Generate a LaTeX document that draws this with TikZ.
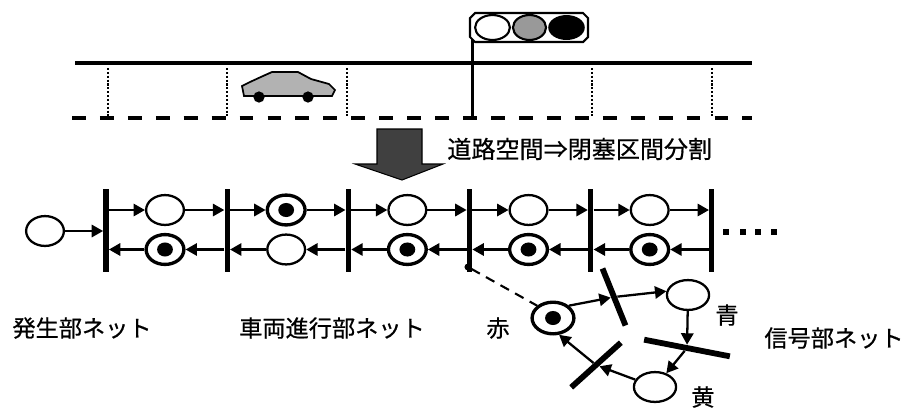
\documentclass[tikz,border=0pt]{standalone}
\usepackage{fontspec}
\setmainfont{Noto Sans CJK JP}[FakeBold=0.6]
\usetikzlibrary{arrows.meta,shapes.geometric,positioning}

\begin{document}
\begin{tikzpicture}[x=0.02cm, y=-0.02cm, node distance=2.424cm,
  place/.style={draw, ellipse, line width=1.3pt, minimum width=21.5pt, minimum height=17pt, inner sep=0},
  marked/.style={place, line width=1.9pt, path picture={\fill (path picture bounding box.center) ellipse [x radius=4.5pt, y radius=4pt];}},
  bar/.style={fill, inner sep=0, minimum width=2.9pt, minimum height=47pt},
  sbar/.style={fill, inner sep=0, minimum height=3.3pt},
  flow/.style={-{Triangle[length=6.5pt, width=7pt]}, line width=1.3pt},
  lbl/.style={font=\fontsize{13.2pt}{16pt}\selectfont, inner sep=0}]

  \useasboundingbox (0,0) rectangle (909,414);

  % Road
  \draw[line width=2.8pt] (75,63) -- (752,63);
  \draw[line width=2.5pt, dash pattern=on 7.9pt off 8pt] (72,118) -- (752,118);
  \draw[line width=1.3pt, dash pattern=on 1.2pt off 1pt] (108,68) -- (108,116);
  \draw[line width=1.3pt, dash pattern=on 1.2pt off 1pt] (227,68) -- (227,116);
  \draw[line width=1.3pt, dash pattern=on 1.2pt off 1pt] (347,68) -- (347,116);
  \draw[line width=1.3pt, dash pattern=on 1.2pt off 1pt] (592,68) -- (592,116);
  \draw[line width=1.3pt, dash pattern=on 1.2pt off 1pt] (712,68) -- (712,116);

  % Signal pole and lights
  \draw[line width=1.7pt] (472,38) -- (472,118);
  \draw[line width=1.2pt, fill=white] (475,13) -- (583,13) -- (588,18) -- (588,37) -- (583,42) -- (475,42) -- (470,37) -- (470,18) -- cycle;
  \draw[line width=1.2pt] (492.5,27.5) ellipse [x radius=9.9pt, y radius=7.1pt];
  \draw[line width=1.2pt, fill=black!40] (529.5,27.5) ellipse [x radius=9.4pt, y radius=7.1pt];
  \fill (566.5,27.5) ellipse [x radius=10.4pt, y radius=7.1pt];

  % Car
  \draw[line width=1pt, fill=black!30] (244,96) -- (242,86) -- (250,82) -- (263,76) -- (272,72) -- (298,72) -- (311,79) -- (329,84) -- (335,90) -- (332,96) -- cycle;
  \fill (259,97) circle [radius=3.2pt];
  \fill (308,97) circle [radius=3.2pt];

  % Block arrow and caption
  \draw[line width=0.6pt, fill=black!75] (377,129) -- (422,129) -- (422,164) -- (443,164) -- (402,180) -- (355,164) -- (377,164) -- cycle;
  \node[lbl, anchor=west, font=\fontsize{13.7pt}{17pt}\selectfont] (split) at (447,149) {道路空間⇒閉塞区間分割};

  % Generation net
  \node[place] (G) at (45,231) {};

  % Transitions
  \node[bar] (T1) at (106,230.5) {};
  \node[bar, right of=T1] (T2) {};
  \node[bar, right of=T2] (T3) {};
  \node[bar, right of=T3] (T4) {};
  \node[bar, right of=T4] (T5) {};
  \node[bar, right of=T5] (T6) {};

  % Forward row
  \node[place] (A1) at (165,210) {};
  \node[marked, right of=A1] (A2) {};
  \node[place, right of=A2] (A3) {};
  \node[place, right of=A3] (A4) {};
  \node[place, right of=A4] (A5) {};

  % Backward row
  \node[marked, below of=A1, node distance=0.79cm] (B1) {};
  \node[place, below of=A2, node distance=0.79cm] (B2) {};
  \node[marked, below of=A3, node distance=0.79cm] (B3) {};
  \node[marked, below of=A4, node distance=0.79cm] (B4) {};
  \node[marked, below of=A5, node distance=0.79cm] (B5) {};

  \draw[flow] (G) -- (T1.west |- G);

  % Forward arcs
  \draw[flow] (T1.east |- A1) -- (A1);
  \draw[flow] (A1) -- (T2.west |- A1);
  \draw[flow] (T2.east |- A2) -- (A2);
  \draw[flow] (A2) -- (T3.west |- A2);
  \draw[flow] (T3.east |- A3) -- (A3);
  \draw[flow] (A3) -- (T4.west |- A3);
  \draw[flow] (T4.east |- A4) -- (A4);
  \draw[flow] (A4) -- (T5.west |- A4);
  \draw[flow] (T5.east |- A5) -- (A5);
  \draw[flow] (A5) -- (T6.west |- A5);

  % Backward arcs
  \draw[flow] (T6.west |- B5) -- (B5);
  \draw[flow] (B5) -- (T5.east |- B5);
  \draw[flow] (T5.west |- B4) -- (B4);
  \draw[flow] (B4) -- (T4.east |- B4);
  \draw[flow] (T4.west |- B3) -- (B3);
  \draw[flow] (B3) -- (T3.east |- B3);
  \draw[flow] (T3.west |- B2) -- (B2);
  \draw[flow] (B2) -- (T2.east |- B2);
  \draw[flow] (T2.west |- B1) -- (B1);
  \draw[flow] (B1) -- (T1.east |- B1);

  % Continuation marks
  \fill (723,229) rectangle +(6,6);
  \fill (740,229) rectangle +(6,6);
  \fill (755,229) rectangle +(6,6);
  \fill (771,229) rectangle +(6,6);

  % Signal net
  \node[marked, minimum width=23.8pt, minimum height=18pt] (Red) at (553,318) {};
  \node[place, minimum width=24pt, minimum height=17pt] (Grn) at (688,295) {};
  \node[place, minimum width=24pt, minimum height=17pt] (Yel) at (655,387) {};
  \node[sbar, minimum width=35pt, rotate=112] (S1) at (614,297) {};
  \node[sbar, minimum width=49.7pt, rotate=-11] (S2) at (687,348) {};
  \node[sbar, minimum width=38pt, rotate=42] (S3) at (596,365) {};

  \draw[flow] (Red.north east) -- (S1);
  \draw[flow] (S1) -- (Grn.170);
  \draw[flow] (Grn) -- (S2);
  \draw[flow] (S2) -- (Yel);
  \draw[flow] (Yel) -- (S3);
  \draw[flow] (S3) -- (Red.-70);

  % Link from the block boundary to the signal
  \node[circle, fill, inner sep=0, minimum size=4pt] (J) at (468,267) {};
  \draw[line width=1.2pt, dash pattern=on 5.5pt off 4pt] (J) -- (Red.north west);

  % Labels
  \node[lbl] (genlbl) at (82,328) {発生部ネット};
  \node[lbl] (vehlbl) at (332,328) {車両進行部ネット};
  \node[lbl] (siglbl) at (834,338) {信号部ネット};
  \node[lbl] (redlbl) at (498,328) {赤};
  \node[lbl] (grnlbl) at (727,315) {青};
  \node[lbl] (yellbl) at (703,397) {黄};

\end{tikzpicture}
\end{document}
